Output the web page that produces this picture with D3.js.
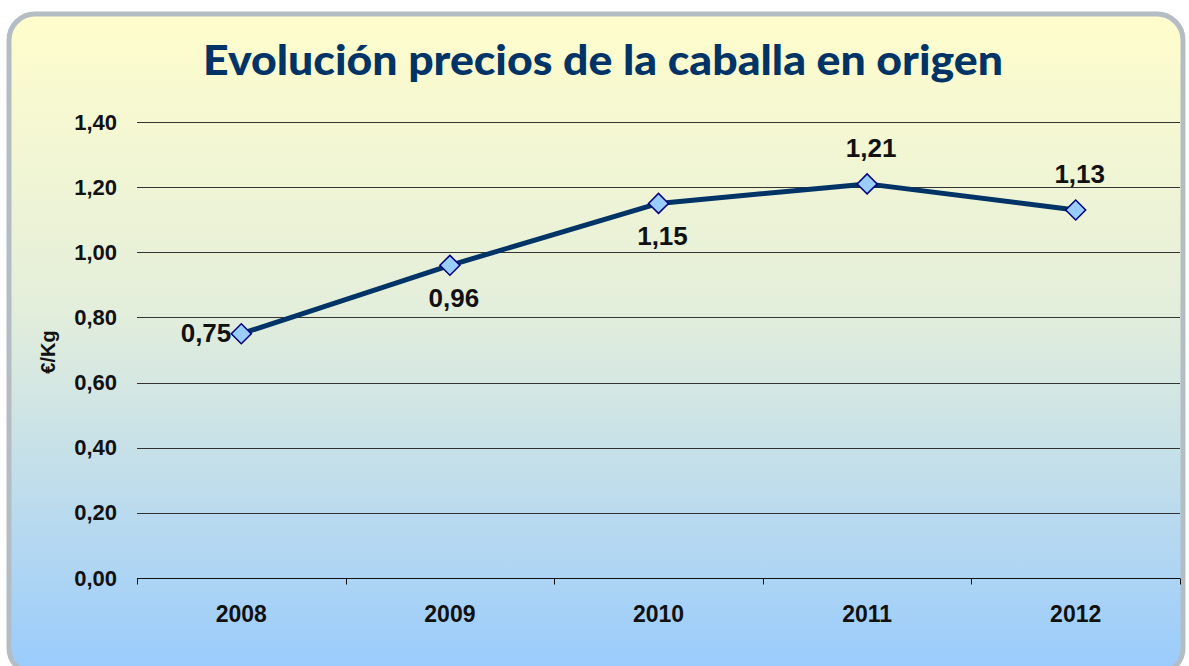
<!DOCTYPE html>
<html>
<head>
<meta charset="utf-8">
<script src="https://cdn.jsdelivr.net/npm/d3@7"></script>
<style>
  body { margin: 0; background: #fff; }
  svg { display: block; font-family: "Liberation Sans", Arial, sans-serif; }
</style>
</head>
<body>
<svg width="1189" height="666"></svg>
<script>
// datos
const years = ["2008", "2009", "2010", "2011", "2012"];
const precios = [0.75, 0.96, 1.15, 1.21, 1.13];
const yTicks = [0, 0.2, 0.4, 0.6, 0.8, 1.0, 1.2, 1.4];
const labelPos = ["left", "below", "below", "above", "above"];

const width = 1189, height = 666;
const margin = {top: 122, right: 9, bottom: 88, left: 137};

const svg = d3.select("svg");
const defs = svg.append("defs");

const grad = defs.append("linearGradient")
  .attr("id", "fondo").attr("x1", 0).attr("y1", 0).attr("x2", 0).attr("y2", 1);
grad.append("stop").attr("offset", "0%").attr("stop-color", "#fffdcc");
grad.append("stop").attr("offset", "45%").attr("stop-color", "#e3eedb");
grad.append("stop").attr("offset", "100%").attr("stop-color", "#99cbfd");

// marco
svg.append("rect")
  .attr("x", 9).attr("y", 14)
  .attr("width", 1174).attr("height", 660)
  .attr("rx", 26)
  .attr("fill", "url(#fondo)")
  .attr("stroke", "#b4bcc4")
  .attr("stroke-width", 5);

svg.append("text")
  .attr("x", 603).attr("y", 75)
  .attr("text-anchor", "middle")
  .attr("fill", "#003366")
  .attr("font-family", "Lato, 'Open Sans', sans-serif")
  .attr("font-weight", 900)
  .attr("font-size", 41)
  .attr("textLength", 800)
  .attr("lengthAdjust", "spacingAndGlyphs")
  .text("Evolución precios de la caballa en origen");

const x = d3.scaleBand()
  .domain(years)
  .range([margin.left, width - margin.right]);

const y = d3.scaleLinear()
  .domain([0, 1.4])
  .range([height - margin.bottom, margin.top]);

// rejilla
svg.append("g")
  .selectAll("line")
  .data(yTicks.slice(1))
  .join("line")
    .attr("x1", margin.left)
    .attr("x2", width - margin.right)
    .attr("y1", d => Math.round(y(d)) + 0.5)
    .attr("y2", d => Math.round(y(d)) + 0.5)
    .attr("stroke", "#333")
    .attr("stroke-width", 1);

// eje Y
const yAxis = svg.append("g")
  .attr("transform", `translate(${margin.left},0)`)
  .call(d3.axisLeft(y).tickValues(yTicks).tickSize(0).tickPadding(20)
    .tickFormat(d => d3.format(".2f")(d).replace(".", ",")))
  .call(g => g.select(".domain").remove());
yAxis.selectAll("text")
  .attr("font-size", 22).attr("font-weight", "bold").attr("fill", "#111")
  .attr("font-family", "'Liberation Sans', Arial, sans-serif");

// eje X
const boundaries = years.map(d => x(d)).concat([x.range()[1]]);
const xg = svg.append("g")
  .attr("transform", `translate(0,${Math.round(y(0)) + 0.5})`);
xg.append("line")
  .attr("x1", margin.left).attr("x2", width - margin.right)
  .attr("stroke", "#111");
xg.selectAll(".tk")
  .data(boundaries)
  .join("line")
    .attr("class", "tk")
    .attr("x1", d => Math.round(d) + 0.5).attr("x2", d => Math.round(d) + 0.5)
    .attr("y1", 0).attr("y2", 6)
    .attr("stroke", "#111");
xg.selectAll(".lbl")
  .data(years)
  .join("text")
    .attr("class", "lbl")
    .attr("x", d => x(d) + x.bandwidth() / 2)
    .attr("y", 43)
    .attr("text-anchor", "middle")
    .attr("font-size", 23).attr("font-weight", "bold").attr("fill", "#111")
    .text(d => d);

svg.append("text")
  .attr("transform", `translate(55,352) rotate(-90)`)
  .attr("text-anchor", "middle")
  .attr("font-size", 20).attr("font-weight", "bold").attr("fill", "#111")
  .text("€/Kg");

// serie
const pts = years.map((d, i) => ({year: d, v: precios[i], pos: labelPos[i]}));
const cx = d => x(d.year) + x.bandwidth() / 2;

svg.append("path")
  .datum(pts)
  .attr("fill", "none")
  .attr("stroke", "#003366")
  .attr("stroke-width", 5)
  .attr("stroke-linejoin", "round")
  .attr("d", d3.line().x(cx).y(d => y(d.v)));

svg.append("g")
  .selectAll("path")
  .data(pts)
  .join("path")
    .attr("transform", d => `translate(${cx(d)},${y(d.v)}) rotate(45)`)
    .attr("d", d3.symbol(d3.symbolSquare, 200)())
    .attr("fill", "#99ccff")
    .attr("stroke", "#000080")
    .attr("stroke-width", 1.5);

svg.append("g")
  .selectAll("text")
  .data(pts)
  .join("text")
    .attr("x", d => d.pos === "left" ? cx(d) - 10 : cx(d) + 4)
    .attr("y", d => d.pos === "left" ? y(d.v) + 8 : d.pos === "below" ? y(d.v) + 42 : y(d.v) - 27)
    .attr("text-anchor", d => d.pos === "left" ? "end" : "middle")
    .attr("font-size", 26).attr("font-weight", "bold").attr("fill", "#111")
    .text(d => d3.format(".2f")(d.v).replace(".", ","));
</script>
</body>
</html>
